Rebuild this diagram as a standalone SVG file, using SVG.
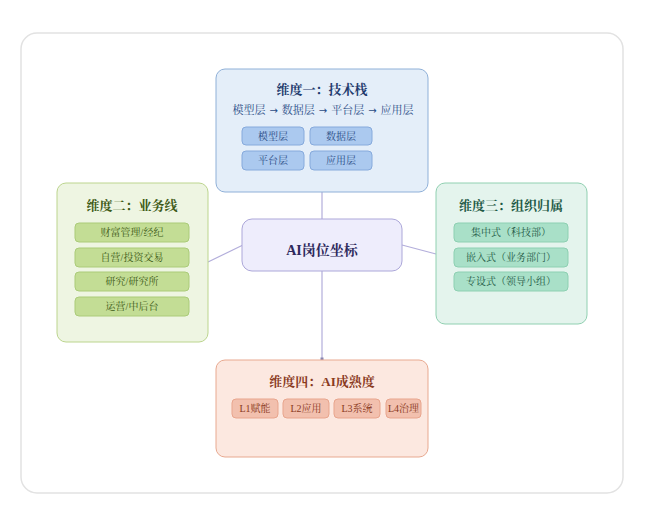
<svg xmlns="http://www.w3.org/2000/svg" width="650" height="516" viewBox="0 0 650 516">
<style>
text{font-family:"Liberation Serif","Noto Serif CJK SC","Noto Sans CJK SC",serif;text-anchor:middle;dominant-baseline:central}
.title{font-size:13px;font-weight:bold}
.chip{font-size:10px}
.arr{font-family:"DejaVu Sans","Noto Sans CJK SC",sans-serif;font-size:10px}
.conn{stroke:#b3aedb;stroke-width:1.2;fill:none}
</style>
<defs>
<marker id="dot" markerWidth="4" markerHeight="4" refX="2" refY="2" markerUnits="userSpaceOnUse"><rect x="0.5" y="0.5" width="3" height="3" fill="#8a86b0"/></marker>
</defs>
<rect x="21" y="33" width="602" height="460" rx="16" fill="#fff" stroke="#e2e2e2" stroke-width="1.5"/>
<g id="connectors">
<line class="conn" x1="322" y1="192" x2="322" y2="219"/>
<line class="conn" x1="322" y1="271" x2="322" y2="359" marker-end="url(#dot)"/>
<line class="conn" x1="243" y1="245" x2="208" y2="262"/>
<line class="conn" x1="402" y1="245" x2="436" y2="254"/>
</g>
<g id="tech">
<rect x="216" y="69" width="212" height="123" rx="9" fill="#e4eef9" stroke="#8fb0d8"/>
<text class="title" x="322" y="89" fill="#1f3b6e">维度一：技术栈</text>
<text x="323" y="110" font-size="11" fill="#2a4c86">模型层<tspan class="arr" dx="4">→</tspan><tspan dx="4">数据层</tspan><tspan class="arr" dx="4">→</tspan><tspan dx="4">平台层</tspan><tspan class="arr" dx="4">→</tspan><tspan dx="4">应用层</tspan></text>
<rect x="242" y="127" width="62" height="18" rx="4" fill="#abc9ef" stroke="#86aadc"/>
<text class="chip" x="273" y="136" fill="#2a4c86">模型层</text>
<rect x="310" y="127" width="62" height="18" rx="4" fill="#abc9ef" stroke="#86aadc"/>
<text class="chip" x="341" y="136" fill="#2a4c86">数据层</text>
<rect x="242" y="151" width="62" height="19" rx="4" fill="#abc9ef" stroke="#86aadc"/>
<text class="chip" x="273" y="160.5" fill="#2a4c86">平台层</text>
<rect x="310" y="151" width="62" height="19" rx="4" fill="#abc9ef" stroke="#86aadc"/>
<text class="chip" x="341" y="160.5" fill="#2a4c86">应用层</text>
</g>
<g id="business">
<rect x="57" y="183" width="151" height="159" rx="9" fill="#eef5e2" stroke="#bcd58e"/>
<text class="title" x="132" y="205" fill="#3d5a16">维度二：业务线</text>
<rect x="75" y="223" width="114" height="19" rx="4" fill="#c3dd95" stroke="#abcb79"/>
<text class="chip" x="132" y="232.5" fill="#3d5a16">财富管理/经纪</text>
<rect x="75" y="248" width="114" height="19" rx="4" fill="#c3dd95" stroke="#abcb79"/>
<text class="chip" x="132" y="257.5" fill="#3d5a16">自营/投资交易</text>
<rect x="75" y="272" width="114" height="19" rx="4" fill="#c3dd95" stroke="#abcb79"/>
<text class="chip" x="132" y="281.5" fill="#3d5a16">研究/研究所</text>
<rect x="75" y="297" width="114" height="19" rx="4" fill="#c3dd95" stroke="#abcb79"/>
<text class="chip" x="132" y="306.5" fill="#3d5a16">运营/中后台</text>
</g>
<g id="org">
<rect x="436" y="183" width="151" height="141" rx="9" fill="#e4f4ed" stroke="#90d0b1"/>
<text class="title" x="511" y="205" fill="#1e5a46">维度三：组织归属</text>
<rect x="454" y="223" width="114" height="19" rx="4" fill="#a9e0c8" stroke="#8dd0b2"/>
<text class="chip" x="511" y="232.5" fill="#1e5a46">集中式（科技部）</text>
<rect x="454" y="248" width="114" height="19" rx="4" fill="#a9e0c8" stroke="#8dd0b2"/>
<text class="chip" x="511" y="257.5" fill="#1e5a46">嵌入式（业务部门）</text>
<rect x="454" y="272" width="114" height="19" rx="4" fill="#a9e0c8" stroke="#8dd0b2"/>
<text class="chip" x="511" y="281.5" fill="#1e5a46">专设式（领导小组）</text>
</g>
<g id="maturity">
<rect x="216" y="360" width="212" height="97" rx="9" fill="#fce8e0" stroke="#e8a990"/>
<text class="title" x="322" y="381" fill="#8a3a1e">维度四：AI成熟度</text>
<rect x="232" y="399" width="46" height="19" rx="4" fill="#f2c0ae" stroke="#e8a58d"/>
<text class="chip" x="255" y="408.5" fill="#8a3a1e">L1赋能</text>
<rect x="283" y="399" width="46" height="19" rx="4" fill="#f2c0ae" stroke="#e8a58d"/>
<text class="chip" x="306" y="408.5" fill="#8a3a1e">L2应用</text>
<rect x="334" y="399" width="46" height="19" rx="4" fill="#f2c0ae" stroke="#e8a58d"/>
<text class="chip" x="357" y="408.5" fill="#8a3a1e">L3系统</text>
<rect x="386" y="399" width="35" height="19" rx="4" fill="#f2c0ae" stroke="#e8a58d"/>
<text class="chip" x="403.5" y="408.5" fill="#8a3a1e">L4治理</text>
</g>
<g id="center">
<rect x="242" y="219" width="160" height="52" rx="10" fill="#eeedfc" stroke="#aca7d9"/>
<text x="322" y="250" font-size="14" font-weight="bold" fill="#2e2a5c">AI岗位坐标</text>
</g>
</svg>
